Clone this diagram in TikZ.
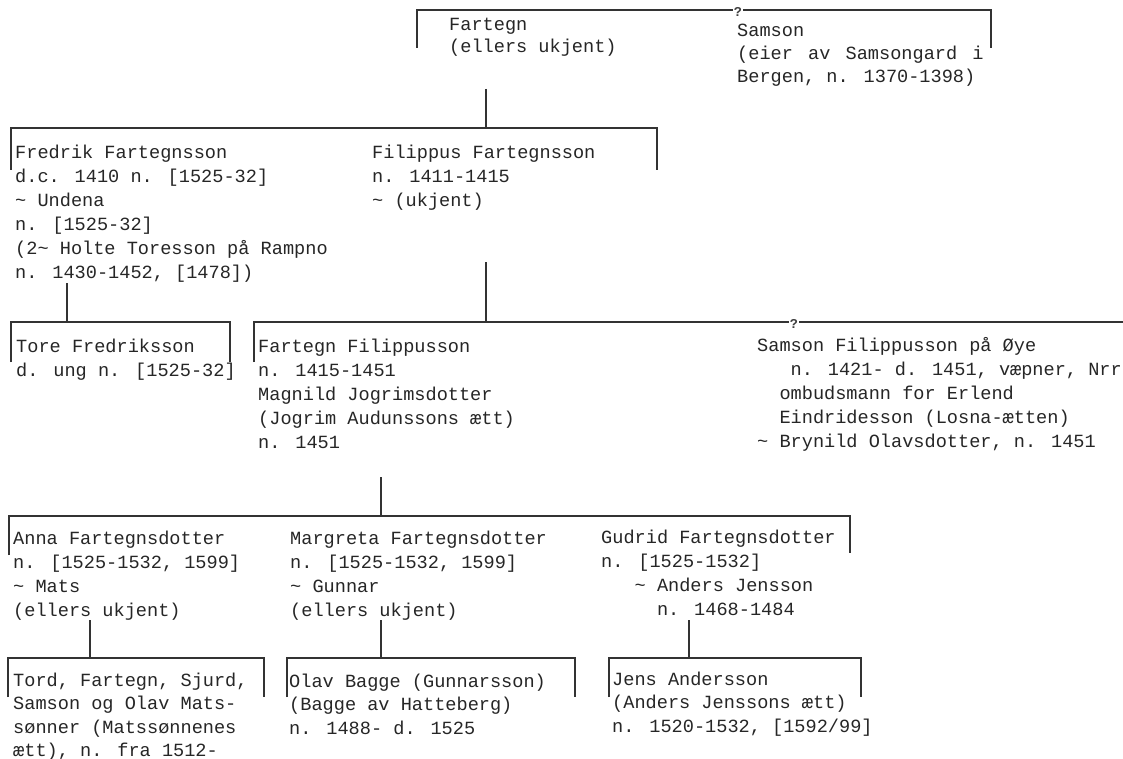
\documentclass[tikz,border=0pt]{standalone}
\usepackage{fontspec}
\setmainfont{Liberation Mono}
\begin{document}
\begin{tikzpicture}[x=1pt,y=-1pt,
  ln/.style={draw=black!80, line width=1.5pt},
  txt/.style={anchor=base west, inner sep=0pt, align=left, text=black!85,
    font=\fontsize{18.6}{24}\selectfont},
  txtT/.style={txt, font=\fontsize{18.6}{22.5}\selectfont},
  txtB/.style={txt, font=\fontsize{18.6}{23.4}\selectfont},
  qm/.style={fill=white, inner sep=0.8pt, text=black!75,
    font=\fontsize{13.5}{13.5}\selectfont\bfseries}]
\fill[white] (0,0) rectangle (1123,759);
\useasboundingbox (0,0) rectangle (1123,759);

% ---------- text nodes (anchored at the baseline of their last line) ----------
\node[txtT] (fartegn) at (449,53) {Fartegn\\(ellers ukjent)};
\node[txt, font=\fontsize{18.6}{23}\selectfont] (samson) at (737,82.5)
  {Samson\\(eier\hspace{4pt} av\hspace{4pt} Samsongard\hspace{4pt} i\\Bergen, n. 1370-1398)};
\node[txt] (fredrik) at (15,278.5) {Fredrik Fartegnsson\\d.c. 1410 n. [1525-32]\\\textasciitilde{} Undena\\n. [1525-32]\\(2\textasciitilde{} Holte Toresson på Rampno\\n. 1430-1452, [1478])};
\node[txt] (filippus) at (372,206.5) {Filippus Fartegnsson\\n. 1411-1415\\\textasciitilde{} (ukjent)};
\node[txt] (tore) at (16,376.5) {Tore Fredriksson\\d. ung n. [1525-32]};
\node[txt] (fartegnf) at (258,448.5) {Fartegn Filippusson\\n. 1415-1451\\Magnild Jogrimsdotter\\(Jogrim Audunssons ætt)\\n. 1451};
\node[txt] (samsonf) at (757,447.5) {Samson Filippusson på Øye\\\phantom{nnn}n. 1421- d. 1451, væpner, Nrr\\\phantom{nn}ombudsmann for Erlend\\\phantom{nn}Eindridesson (Losna-ætten)\\\textasciitilde{} Brynild Olavsdotter, n. 1451};
\node[txt] (anna) at (13,616.5) {Anna Fartegnsdotter\\n. [1525-1532, 1599]\\\textasciitilde{} Mats\\(ellers ukjent)};
\node[txt] (margreta) at (290,616.5) {Margreta Fartegnsdotter\\n. [1525-1532, 1599]\\\textasciitilde{} Gunnar\\(ellers ukjent)};
\node[txt] (gudrid) at (601,615.5) {Gudrid Fartegnsdotter\\n. [1525-1532]\\\phantom{nnn}\textasciitilde{} Anders Jensson\\\phantom{nnnnn}n. 1468-1484};
\node[txtB] (tord) at (13,756.5) {Tord, Fartegn, Sjurd,\\Samson og Olav Mats-\\sønner (Matssønnenes\\ætt), n. fra 1512-};
\node[txtB] (olav) at (289,734) {Olav Bagge (Gunnarsson)\\(Bagge av Hatteberg)\\n. 1488- d. 1525};
\node[txtB] (jens) at (612,732) {Jens Andersson\\(Anders Jenssons ætt)\\n. 1520-1532, [1592/99]};

% ---------- coordinates ----------
\coordinate (tL) at (417,48);  \coordinate (tLt) at (417,10);
\coordinate (tRt) at (991,10); \coordinate (tR) at (991,48);
\coordinate (v1a) at (486,89); \coordinate (v1b) at (486,128);
\coordinate (b2L) at (11,170); \coordinate (b2Lt) at (11,128);
\coordinate (b2Rt) at (657,128); \coordinate (b2R) at (657,170);
\coordinate (v2a) at (67,283); \coordinate (v2b) at (67,322);
\coordinate (v3a) at (486,262); \coordinate (v3b) at (486,322);
\coordinate (b3L) at (11,362); \coordinate (b3Lt) at (11,322);
\coordinate (b3Rt) at (230,322); \coordinate (b3R) at (230,362);
\coordinate (b4L) at (254,362); \coordinate (b4Lt) at (254,322);
\coordinate (b4E) at (1125,322);
\coordinate (v4a) at (381,477); \coordinate (v4b) at (381,516);
\coordinate (b5L) at (9,555); \coordinate (b5Lt) at (9,516);
\coordinate (b5Rt) at (850,516); \coordinate (b5R) at (850,553);
\coordinate (v5a) at (90,620); \coordinate (v5b) at (90,658);
\coordinate (v6a) at (381,620); \coordinate (v6b) at (381,658);
\coordinate (v7a) at (689,620); \coordinate (v7b) at (689,658);
\coordinate (c1L) at (8,697); \coordinate (c1Lt) at (8,658);
\coordinate (c1Rt) at (264,658); \coordinate (c1R) at (264,697);
\coordinate (c2L) at (287,697); \coordinate (c2Lt) at (287,658);
\coordinate (c2Rt) at (575,658); \coordinate (c2R) at (575,697);
\coordinate (c3L) at (609,697); \coordinate (c3Lt) at (609,658);
\coordinate (c3Rt) at (861,658); \coordinate (c3R) at (861,697);

% ---------- connectors ----------
\draw[ln] (tL) -- (tLt) -- (tRt) -- (tR);
\draw[ln] (v1a) -- (v1b);
\draw[ln] (b2L) -- (b2Lt) -- (b2Rt) -- (b2R);
\draw[ln] (v2a) -- (v2b);
\draw[ln] (v3a) -- (v3b);
\draw[ln] (b3L) -- (b3Lt) -- (b3Rt) -- (b3R);
\draw[ln] (b4L) -- (b4Lt) -- (b4E);
\draw[ln] (v4a) -- (v4b);
\draw[ln] (b5L) -- (b5Lt) -- (b5Rt) -- (b5R);
\draw[ln] (v5a) -- (v5b);
\draw[ln] (v6a) -- (v6b);
\draw[ln] (v7a) -- (v7b);
\draw[ln] (c1L) -- (c1Lt) -- (c1Rt) -- (c1R);
\draw[ln] (c2L) -- (c2Lt) -- (c2Rt) -- (c2R);
\draw[ln] (c3L) -- (c3Lt) -- (c3Rt) -- (c3R);

% ---------- question marks ----------
\node[qm] (q1) at (738,12) {?};
\node[qm] (q2) at (794,324) {?};
\end{tikzpicture}
\end{document}
